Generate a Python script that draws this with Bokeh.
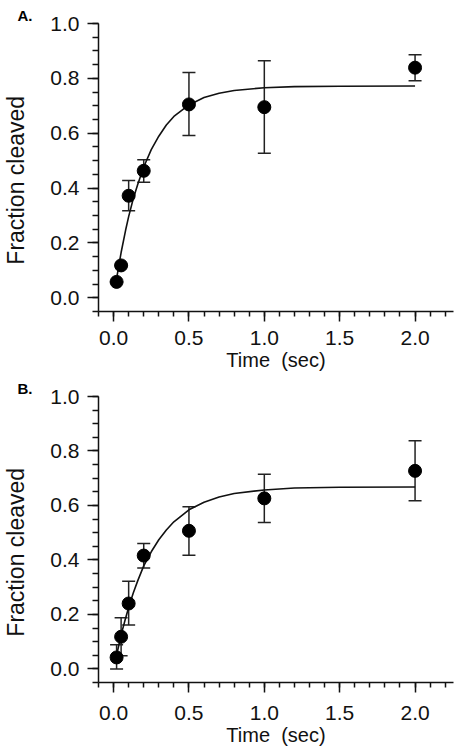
from bokeh.plotting import figure
from bokeh.layouts import column
from bokeh.models import (ColumnDataSource, Whisker, TeeHead, SingleIntervalTicker,
                          PrintfTickFormatter, Title, Range1d)
from bokeh.embed import file_html
from bokeh.resources import INLINE

# ---- data ----
time_pts = [0.02, 0.05, 0.1, 0.2, 0.5, 1.0, 2.0]

frac_a = [0.058, 0.118, 0.372, 0.463, 0.705, 0.695, 0.839]
lower_a = [0.058, 0.118, 0.317, 0.421, 0.592, 0.527, 0.791]
upper_a = [0.058, 0.118, 0.428, 0.503, 0.821, 0.864, 0.886]

frac_b = [0.042, 0.118, 0.240, 0.416, 0.507, 0.626, 0.727]
lower_b = [0.000, 0.048, 0.161, 0.370, 0.417, 0.537, 0.617]
upper_b = [0.089, 0.188, 0.322, 0.460, 0.595, 0.715, 0.838]

# fitted curves
fit_t = [0.02, 0.05, 0.08, 0.1, 0.13, 0.16, 0.2, 0.25, 0.3, 0.35, 0.4, 0.5,
         0.6, 0.7, 0.8, 1.0, 1.2, 1.5, 2.0]
fit_a = [0.070, 0.165, 0.247, 0.296, 0.360, 0.413, 0.477, 0.540, 0.589, 0.630,
         0.661, 0.703, 0.730, 0.746, 0.756, 0.766, 0.770, 0.771, 0.772]
fit_b = [0.050, 0.125, 0.187, 0.225, 0.278, 0.323, 0.378, 0.430, 0.474, 0.510,
         0.540, 0.584, 0.612, 0.631, 0.644, 0.657, 0.664, 0.667, 0.668]

x_label = "Time\u00a0 (sec)"
y_label = "Fraction cleaved"
panel_tags = ["A.", "B."]

FONT = "Liberation Sans"
INK = "#111111"


def make_panel(tag, frac, lower, upper, fit_y, top_border, bottom_border,
               xlabel_standoff):
    height = top_border + 288 + bottom_border
    p = figure(width=455, height=height,
               x_range=Range1d(-0.1, 2.255), y_range=Range1d(-0.05, 1.0),
               output_backend="svg", toolbar_location=None,
               min_border_left=98, min_border_right=2,
               min_border_top=top_border, min_border_bottom=bottom_border)
    p.outline_line_color = None
    p.xgrid.visible = False
    p.ygrid.visible = False
    p.background_fill_color = "white"
    p.border_fill_color = "white"

    src = ColumnDataSource(dict(t=time_pts, y=frac, lo=lower, hi=upper))

    p.line(fit_t, fit_y, line_color=INK, line_width=1.6)
    w = Whisker(base="t", upper="hi", lower="lo", source=src,
                line_color="#222222", line_width=1.5,
                upper_head=TeeHead(size=13, line_color="#222222", line_width=1.5),
                lower_head=TeeHead(size=13, line_color="#222222", line_width=1.5))
    p.add_layout(w)
    p.scatter("t", "y", source=src, size=13, fill_color="black", line_color="black")

    p.xaxis.ticker = SingleIntervalTicker(interval=0.5, num_minor_ticks=5)
    p.yaxis.ticker = SingleIntervalTicker(interval=0.2, num_minor_ticks=4)
    p.xaxis.formatter = PrintfTickFormatter(format="%.1f")
    p.yaxis.formatter = PrintfTickFormatter(format="%.1f")

    for ax in (p.xaxis[0], p.yaxis[0]):
        ax.axis_line_color = INK
        ax.axis_line_width = 1.5
        ax.major_tick_line_color = INK
        ax.minor_tick_line_color = INK
        ax.major_tick_line_width = 1.5
        ax.minor_tick_line_width = 1.5
        ax.major_tick_in = 0
        ax.minor_tick_in = 0
        ax.major_label_text_font = FONT
        ax.major_label_text_font_size = "21px"
        ax.major_label_text_color = INK
    p.xaxis.major_tick_out = 10
    p.xaxis.minor_tick_out = 5
    p.yaxis.major_tick_out = 11
    p.yaxis.minor_tick_out = 6
    p.xaxis.major_label_standoff = xlabel_standoff
    p.yaxis.major_label_standoff = 8

    p.xaxis.axis_label = x_label
    p.xaxis.axis_label_text_font = FONT
    p.xaxis.axis_label_text_font_size = "20px"
    p.xaxis.axis_label_text_font_style = "normal"
    p.xaxis.axis_label_text_color = INK
    p.xaxis.axis_label_standoff = 1

    # trailing no-break spaces nudge the visible label below the frame centre,
    # as in the reference
    p.yaxis.axis_label = y_label + "\u00a0" * 4
    p.yaxis.axis_label_text_font = FONT
    p.yaxis.axis_label_text_font_size = "23px"
    p.yaxis.axis_label_text_font_style = "normal"
    p.yaxis.axis_label_text_color = INK
    p.yaxis.axis_label_standoff = 18

    p.add_layout(Title(text=tag, align="left", offset=-81, standoff=0,
                       text_font=FONT, text_font_size="15px",
                       text_font_style="bold", text_color="black"), "above")
    return p


pa = make_panel(panel_tags[0], frac_a, lower_a, upper_a, fit_a, 23, 66, 9)
pb = make_panel(panel_tags[1], frac_b, lower_b, upper_b, fit_b, 17, 70, 13)

layout = column(pa, pb, spacing=0)
open("out.html", "w").write(file_html(layout, INLINE))
